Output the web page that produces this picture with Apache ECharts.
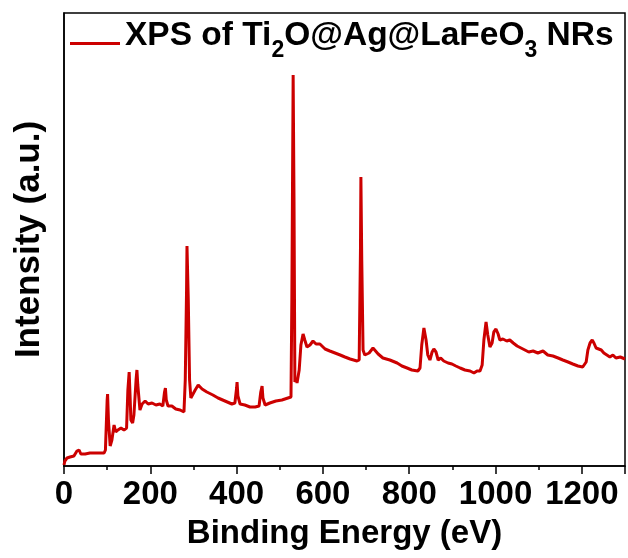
<!DOCTYPE html>
<html>
<head>
<meta charset="utf-8">
<script src="https://cdn.jsdelivr.net/npm/echarts@6/dist/echarts.min.js"></script>
<style>
  html, body { margin: 0; padding: 0; background: #fff; }
  #chart { width: 628px; height: 558px; }
</style>
</head>
<body>
<div id="chart"></div>
<script>
// binding energy (eV) and intensity (a.u.)
const energy = [
  0, 2, 7, 14, 23, 30, 35, 39, 49, 60, 72, 83, 93, 96, 100, 101, 103, 107, 111, 116,
  120, 125, 132, 139, 145, 148, 151, 153, 155, 159, 162, 167, 169, 171, 176, 181, 188, 195, 204, 213,
  222, 229, 233, 235, 237, 241, 250, 259, 269, 278, 281, 284, 285, 288, 291, 294, 298, 304, 311, 320,
  331, 345, 357, 373, 389, 396, 400, 401, 403, 408, 419, 431, 443, 452, 456, 459, 461, 466, 477, 491,
  505, 519, 526, 528, 531, 533, 535, 538, 540, 545, 549, 554, 558, 563, 570, 577, 584, 593, 605, 616,
  628, 640, 651, 663, 679, 684, 687, 688, 690, 693, 697, 707, 716, 720, 728, 739, 755, 772, 783, 795,
  806, 820, 825, 829, 834, 839, 843, 848, 853, 857, 862, 867, 873, 880, 890, 899, 908, 918, 929, 941,
  950, 957, 964, 969, 973, 978, 982, 987, 992, 996, 1001, 1006, 1010, 1017, 1026, 1033, 1041, 1050, 1059, 1068,
  1077, 1087, 1098, 1110, 1121, 1133, 1145, 1156, 1168, 1179, 1191, 1202, 1210, 1214, 1219, 1224, 1228, 1233, 1237, 1245,
  1251, 1258, 1265, 1272, 1279, 1289, 1300
];
const intensity = [
  1, 5, 8, 9, 10, 15, 16, 12, 12, 13, 13, 13, 13, 16, 66, 72, 46, 20, 26, 41,
  34, 36, 38, 36, 38, 76, 94, 71, 46, 43, 51, 86, 96, 81, 56, 62, 65, 62, 63, 61,
  62, 60, 74, 78, 66, 60, 60, 57, 56, 54, 86, 176, 220, 166, 86, 68, 66, 76, 81, 77,
  74, 71, 68, 65, 62, 63, 78, 84, 70, 62, 61, 59, 59, 60, 74, 80, 68, 61, 63, 65,
  66, 68, 69, 166, 391, 266, 84, 88, 83, 96, 121, 132, 126, 119, 121, 125, 122, 122, 117, 115,
  113, 111, 109, 107, 105, 106, 216, 289, 206, 116, 111, 113, 118, 117, 112, 108, 106, 103, 100, 98,
  96, 95, 98, 121, 138, 126, 111, 106, 114, 117, 114, 106, 108, 105, 103, 102, 100, 98, 96, 95,
  93, 95, 95, 101, 126, 144, 131, 119, 123, 134, 137, 132, 126, 127, 125, 126, 123, 120, 118, 116,
  114, 115, 113, 115, 111, 110, 108, 106, 104, 102, 100, 99, 104, 116, 123, 126, 123, 118, 116, 116,
  113, 111, 109, 111, 108, 109, 107
];
const xTicks = { min: 0, max: 1300, step: 200 };
const seriesName = 'XPS of Ti{sub|2}O@Ag@LaFeO{sub|3} NRs';

const chart = echarts.init(document.getElementById('chart'));
const font = "'Liberation Sans', Arial, sans-serif";

chart.setOption({
  animation: false,
  backgroundColor: '#fff',
  grid: {
    left: 64, right: 3, top: 13, bottom: 92,
    show: true, borderColor: '#000', borderWidth: 1.5
  },
  legend: {
    left: 70, top: 19, padding: 0,
    itemWidth: 50, itemHeight: 18, itemGap: 0,
    // tiny dot at the top keeps the line sample low in its box
    icon: 'path://M0 0L0.01 0L0.01 0.01ZM0 15L50 15L50 18L0 18Z',
    data: ['xps'],
    formatter: () => seriesName,
    textStyle: {
      fontFamily: font, fontWeight: 'bold', fontSize: 33.5, color: '#000',
      rich: {
        sub: { fontFamily: font, fontWeight: 'bold', fontSize: 23, padding: [30, 0, 0, 0], color: '#000' }
      }
    }
  },
  xAxis: {
    type: 'value',
    min: xTicks.min, max: xTicks.max, interval: xTicks.step,
    name: 'Binding Energy (eV)',
    nameLocation: 'middle', nameGap: 51,
    nameTextStyle: { fontFamily: font, fontWeight: 'bold', fontSize: 33, color: '#000' },
    axisLine: { onZero: false, lineStyle: { color: '#000', width: 1.5 } },
    axisTick: { inside: false, length: 8, lineStyle: { color: '#000', width: 1.5 } },
    minorTick: { show: true, splitNumber: 2, length: 4, lineStyle: { color: '#000', width: 1.5 } },
    axisLabel: {
      fontFamily: font, fontWeight: 'bold', fontSize: 33, color: '#000',
      margin: 12, showMaxLabel: false,
      formatter: v => String(v)
    },
    splitLine: { show: false }
  },
  yAxis: {
    type: 'value',
    min: 0, max: 453,
    name: 'Intensity (a.u.)',
    nameLocation: 'middle', nameGap: 17,
    nameTextStyle: { fontFamily: font, fontWeight: 'bold', fontSize: 35, color: '#000' },
    axisLine: { show: true, onZero: false, lineStyle: { color: '#000', width: 1.5 } },
    axisTick: { show: false },
    axisLabel: { show: false },
    splitLine: { show: false }
  },
  series: [
    {
      name: 'xps',
      type: 'line',
      data: energy.map((e, i) => [e, intensity[i]]),
      showSymbol: false,
      lineStyle: { color: '#cc0000', width: 3 },
      itemStyle: { color: '#cc0000' }
    }
  ]
});
</script>
</body>
</html>
